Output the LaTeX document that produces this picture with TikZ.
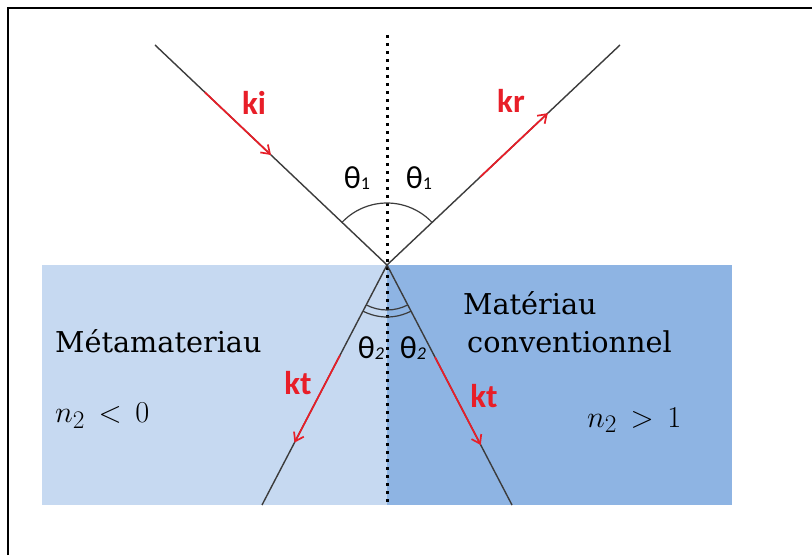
\documentclass[tikz,border=0pt]{standalone}
\usepackage{fontspec}
\setmainfont{DejaVu Serif}
\newfontfamily\kfont{Carlito}
\usetikzlibrary{arrows.meta,calc}
\definecolor{lightblue}{RGB}{198,217,241}
\definecolor{darkblue}{RGB}{142,180,227}
\definecolor{kred}{RGB}{232,30,40}
\definecolor{raygray}{RGB}{60,60,60}
\begin{document}
\begin{tikzpicture}[x=1pt,y=1pt,
  ray/.style={draw=raygray,line width=1.4pt},
  kvec/.style={draw=kred,line width=1.7pt,-{Straight Barb[length=8pt,width=11pt,line width=1.7pt]}},
  klabel/.style={text=kred,font=\kfont\bfseries\fontsize{33}{33}\selectfont,inner sep=0pt},
  thlabel/.style={font=\kfont\fontsize{32}{32}\selectfont,inner sep=0pt},
  mattext/.style={font=\fontsize{28.7}{28.7}\selectfont,inner sep=0pt,anchor=base west},
  mathtext/.style={font=\fontsize{24.88}{25}\selectfont,inner sep=0pt,anchor=base west}]
\useasboundingbox (0,0) rectangle (812,555);
\fill[white] (0,0) rectangle (812,555);
% frame (top and left only)
\draw[line width=1.8pt,black] (8,0) -- (8,547) -- (812,547);
% media
\fill[lightblue] (42,50) rectangle (387,290);
\fill[darkblue] (387,50) rectangle (732,290);
% points
\coordinate (O) at (387,290);
\coordinate (I) at (155,510);
\coordinate (R) at (620,510);
\coordinate (TL) at (262,50);
\coordinate (TR) at (512,50);
\coordinate (Ntop) at (387,520);
\coordinate (Nbot) at (387,50);
% normal
\draw[black,line width=3pt,dash pattern=on 3pt off 5pt] (Ntop) -- (Nbot);
% rays
\draw[ray] (I) -- (O);
\draw[ray] (O) -- (R);
\draw[ray] (O) -- (TL);
\draw[ray] (O) -- (TR);
% arcs
\draw[raygray,line width=1.2pt] ([shift={(43.4:62)}]O) arc[start angle=43.4,end angle=136.6,radius=62];
\draw[raygray,line width=1.2pt] ([shift={(242.5:45)}]O) arc[start angle=242.5,end angle=297.5,radius=45];
\draw[raygray,line width=1.2pt] ([shift={(242.5:52)}]O) arc[start angle=242.5,end angle=297.5,radius=52];
% wave vectors
\draw[kvec] ($(I)!0.215!(O)$) -- ($(I)!0.50!(O)$);
\draw[kvec] ($(O)!0.40!(R)$) -- ($(O)!0.69!(R)$);
\draw[kvec] ($(O)!0.376!(TL)$) -- ($(O)!0.74!(TL)$);
\draw[kvec] ($(O)!0.384!(TR)$) -- ($(O)!0.75!(TR)$);
% labels
\node[klabel] (ki) at (254,452) {ki};
\node[klabel] (kr) at (511,454) {kr};
\node[klabel] (ktl) at (298,172) {kt};
\node[klabel] (ktr) at (484,159) {kt};
\node[thlabel] (th1l) at (357,377) {θ\raisebox{-1pt}{\fontsize{18}{18}\selectfont 1}};
\node[thlabel] (th1r) at (419,377) {θ\raisebox{-1pt}{\fontsize{18}{18}\selectfont 1}};
\node[thlabel] (th2l) at (371,207) {θ\raisebox{-1pt}{\fontsize{18}{18}\selectfont\itshape 2}};
\node[thlabel] (th2r) at (413,207) {θ\raisebox{-1pt}{\fontsize{18}{18}\selectfont\itshape 2}};
\node[mattext] (meta) at (55,202) {Métamateriau};
\node[mathtext] (nneg) at (55,132) {\scalebox{1.22}{$n_2 \mathrel{\,<\,} 0$}};
\node[mattext] (mat1) at (463,240) {Matériau};
\node[mattext] (mat2) at (467,202) {conventionnel};
\node[mathtext] (npos) at (587,128) {\scalebox{1.22}{$n_2 \mathrel{\,>\,} 1$}};
\end{tikzpicture}
\end{document}
